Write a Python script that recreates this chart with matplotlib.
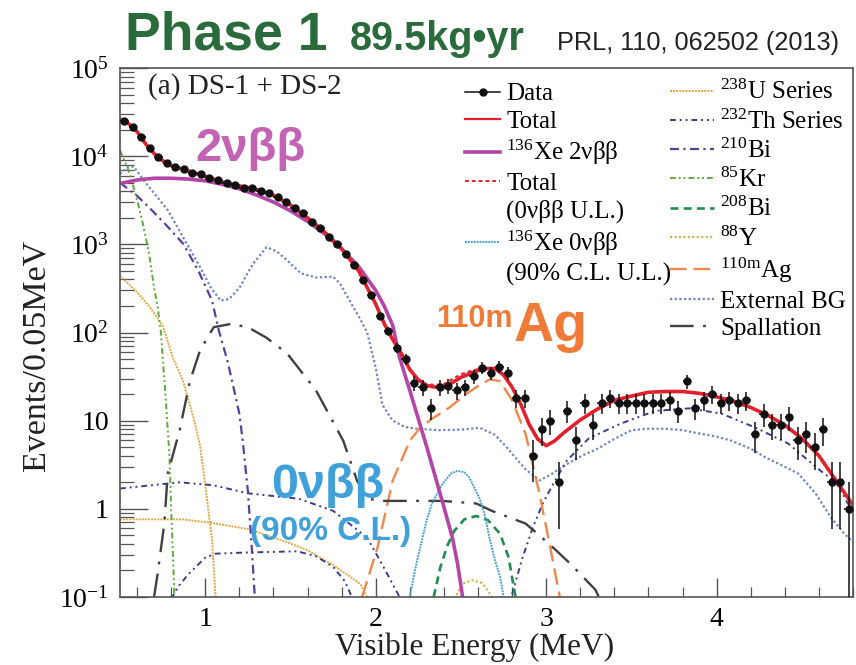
import numpy as np
import matplotlib.pyplot as plt
from matplotlib.lines import Line2D
from matplotlib.ticker import LogLocator, MultipleLocator, NullFormatter

plt.rcParams['font.family'] = ['Liberation Serif', 'DejaVu Serif']
plt.rcParams['mathtext.fontset'] = 'custom'
plt.rcParams['mathtext.rm'] = 'Liberation Serif'
plt.rcParams['mathtext.it'] = 'Liberation Serif:italic'
plt.rcParams['mathtext.bf'] = 'Liberation Serif:bold'

# ---- data: events per 0.05 MeV bin, bins from 0.5 to 4.8 MeV ----
bin_edges = np.arange(0.5, 4.8001, 0.05)
counts = [25200, 21300, 16300, 12400, 9700, 8400, 7500, 7100, 6400, 6200,
          5600, 5400, 4900, 4750, 4400, 4300, 4000, 3800, 3400, 3050,
          2600, 2250, 1790, 1520, 1220, 1010, 770, 590, 390, 265,
          155, 104, 67,
          50, 27, 24, 14, 24, 25, 22, 24, 32, 40,
          35, 41, 35, 18, 18, 4, 8, 10, 2, 13,
          6, 16, 9, 16, 18, 16, 16, 16, 16, 16,
          16, 17, 13, 28, 14, 17, 20, 16, 17, 16,
          17, 7, 12, 9, 9, 11, 6, 7, 5, 8,
          2, 2, 1]

# ---- fit components (energy in MeV, events / 0.05 MeV) ----
total_e = [0.50, 0.55, 0.60, 0.65, 0.70, 0.75, 0.80, 0.90, 1.00, 1.10, 1.20, 1.30,
           1.40, 1.50, 1.60, 1.70, 1.80, 1.90, 2.00, 2.05, 2.10, 2.15, 2.20, 2.25,
           2.30, 2.35, 2.40, 2.45, 2.50, 2.55, 2.60, 2.65, 2.70, 2.75, 2.80, 2.85,
           2.90, 2.95, 3.00, 3.05, 3.10, 3.20, 3.30, 3.40, 3.50, 3.60, 3.70, 3.80,
           3.90, 4.00, 4.10, 4.20, 4.30, 4.40, 4.50, 4.60, 4.70, 4.80]
total = [26300, 23400, 19000, 13800, 10700, 8900, 7800, 6800, 5900, 5100, 4600, 4200,
         3600, 2800, 2000, 1380, 890, 500, 210, 126, 83, 58, 38, 29,
         25, 24, 24, 27, 31, 34, 37, 39, 39, 33, 24, 15.5,
         9.1, 6.2, 5.2, 5.9, 7.2, 10.2, 13.5, 17, 19, 21, 21.4, 21.4,
         20.4, 18.6, 16.6, 14.1, 11.5, 8.9, 6.3, 4.0, 2.1, 1.1]
total_ul = [26300, 23400, 19000, 13800, 10700, 8900, 7800, 6800, 5900, 5100, 4600, 4200,
            3600, 2800, 2000, 1380, 890, 500, 210, 126, 83, 58, 38.1, 29.3,
            25.8, 25.5, 26, 29.6, 33.7, 36.3, 38.5, 39.9, 39.3, 33.1, 24, 15.5,
            9.1, 6.2, 5.2, 5.9, 7.2, 10.2, 13.5, 17, 19, 21, 21.4, 21.4,
            20.4, 18.6, 16.6, 14.1, 11.5, 8.9, 6.3, 4.0, 2.1, 1.1]

xe2nu_e = [0.50, 0.60, 0.70, 0.80, 0.90, 1.00, 1.10, 1.20, 1.30, 1.40, 1.50, 1.60, 1.70,
           1.80, 1.90, 2.00, 2.05, 2.10, 2.14, 2.20, 2.25, 2.30, 2.35, 2.40, 2.45,
           2.48, 2.51, 2.53]
xe2nu = [4900, 5370, 5620, 5620, 5500, 5250, 4790, 4270, 3630, 3020, 2400, 1820, 1320,
         890, 560, 300, 200, 120, 52, 22, 10.5, 5.0, 2.3, 1.05, 0.47,
         0.24, 0.1, 0.063]

xe0nu_e = [2.20, 2.23, 2.26, 2.30, 2.33, 2.39, 2.44, 2.48, 2.52, 2.55, 2.61, 2.64, 2.67,
           2.70, 2.73, 2.75]
xe0nu = [0.1, 0.2, 0.36, 0.75, 1.15, 1.9, 2.5, 2.7, 2.6, 2.25, 1.3, 0.85, 0.44,
         0.26, 0.17, 0.1]

u238_e = [0.50, 0.59, 0.67, 0.75, 0.81, 0.87, 0.93, 0.97, 1.00, 1.04, 1.06, 1.07]
u238 = [440, 300, 200, 120, 52, 28, 11, 5.2, 1.9, 0.44, 0.107, 0.063]
u238_flat_e = [0.50, 0.87, 1.04, 1.25, 1.45, 1.60, 1.75, 1.85, 1.91, 1.95, 1.97]
u238_flat = [0.76, 0.76, 0.69, 0.59, 0.44, 0.34, 0.23, 0.17, 0.14, 0.1, 0.08]

th232_e = [0.50, 0.85, 1.05, 1.25, 1.55, 1.75, 1.95, 2.04, 2.14, 2.17]
th232 = [1.7, 2.0, 1.85, 1.5, 1.3, 0.95, 0.47, 0.23, 0.1, 0.08]
th232_mid_e = [0.80, 0.84, 0.90, 1.00, 1.06, 1.25, 1.54, 1.65, 1.75, 1.82, 1.86, 1.88]
th232_mid = [0.095, 0.13, 0.18, 0.28, 0.31, 0.32, 0.33, 0.29, 0.22, 0.15, 0.1, 0.08]
th232_high_e = [2.80, 2.86, 2.92, 2.98, 3.04, 3.12, 3.25, 3.44, 3.64, 3.84, 4.03, 4.23,
                4.42, 4.61, 4.70, 4.77, 4.80]
th232_high = [0.107, 0.275, 0.60, 1.15, 1.9, 3.5, 6.3, 9.3, 12.9, 13.8, 12.0, 8.3,
              5.5, 2.7, 2.0, 1.15, 1.0]

bi210_e = [0.50, 0.60, 0.67, 0.77, 0.87, 0.96, 1.04, 1.08, 1.13, 1.17, 1.20, 1.22,
           1.25, 1.27, 1.29, 1.30]
bi210 = [5000, 3550, 2630, 1660, 1020, 500, 230, 105, 48, 22, 12, 5.9,
         1.6, 0.44, 0.107, 0.063]

kr85_e = [0.50, 0.55, 0.59, 0.63, 0.67, 0.70, 0.72, 0.74, 0.77, 0.79, 0.80, 0.81, 0.82]
kr85 = [11700, 6900, 3800, 1860, 800, 320, 200, 100, 16, 4, 1.0, 0.32, 0.09]

bi208_e = [2.34, 2.38, 2.42, 2.46, 2.52, 2.59, 2.66, 2.73, 2.78, 2.82]
bi208 = [0.1, 0.22, 0.38, 0.56, 0.76, 0.83, 0.74, 0.52, 0.28, 0.1]

y88_e = [2.46, 2.49, 2.52, 2.57, 2.62, 2.65, 2.69]
y88 = [0.095, 0.12, 0.145, 0.155, 0.145, 0.125, 0.095]

ag110m_e = [1.92, 2.01, 2.10, 2.20, 2.26, 2.33, 2.43, 2.53, 2.59, 2.67, 2.73, 2.80,
            2.88, 2.96, 3.02, 3.08]
ag110m = [0.1, 0.36, 2.1, 5.9, 8.3, 10.5, 14, 20, 24, 29.5, 28, 17,
          7, 1.5, 0.40, 0.1]

ext_e = [0.50, 0.55, 0.58, 0.65, 0.70, 0.78, 0.85, 0.90, 0.97, 1.03, 1.09, 1.14, 1.20,
         1.28, 1.36, 1.42, 1.48, 1.56, 1.65, 1.75, 1.79, 1.85, 1.91, 1.95, 2.00,
         2.04, 2.10, 2.17, 2.24, 2.37, 2.50, 2.61, 2.70, 2.76, 2.82, 2.88, 2.96,
         3.02, 3.12, 3.21, 3.31, 3.40, 3.50, 3.60, 3.70, 3.80, 3.89, 4.00, 4.09,
         4.20, 4.29, 4.40, 4.48, 4.58, 4.67, 4.75, 4.80]
ext_bg = [6300, 7600, 7600, 5000, 3800, 2450, 1410, 950, 550, 330, 230, 240, 320,
          600, 930, 830, 660, 470, 420, 430, 360, 224, 141, 100, 40,
          15, 10, 8.5, 8.1, 7.8, 7.9, 8.3, 6.9, 5.2, 3.8, 2.8, 2.1,
          2.4, 3.2, 4.0, 4.9, 6.2, 7.8, 8.1, 8.1, 7.8, 7.2, 6.6, 5.9,
          4.8, 3.8, 3.0, 2.5, 1.5, 0.8, 0.52, 0.42]

spall_e = [0.70, 0.72, 0.76, 0.78, 0.85, 0.91, 0.97, 1.05, 1.16, 1.26, 1.36, 1.48,
           1.65, 1.81, 1.89, 1.95, 2.05, 2.39, 2.59, 2.68, 2.88, 2.96, 3.05, 3.15,
           3.29, 3.32]
spall = [0.1, 0.18, 0.68, 2.5, 7.8, 28, 63, 115, 126, 112, 87, 58,
         22, 5.9, 2.1, 1.3, 1.23, 1.23, 1.15, 0.95, 0.68, 0.5, 0.35, 0.23,
         0.12, 0.09]

y_ticks = [0.1, 1, 10, 1e2, 1e3, 1e4, 1e5]
y_tick_labels = ['10$^{-1}$', '1', '10', '10$^{2}$', '10$^{3}$', '10$^{4}$', '10$^{5}$']
x_ticks = [1, 2, 3, 4]

# ---- styles ----
c_total = '#e3202b'
c_2nu = '#b445a6'
c_0nu = '#45a2d3'
c_u = '#e3a53f'
c_th = '#383c8c'
c_bi210 = '#5a3e9e'
c_kr = '#5cab3c'
c_bi208 = '#1f8d4a'
c_y = '#d9b24a'
c_ag = '#f0874c'
c_ext = '#6d84c6'
c_sp = '#404040'

st_u = dict(color=c_u, lw=1.4, ls=(0, (1, 0.6)))
st_th = dict(color=c_th, lw=1.4, ls=(0, (3, 2, 1, 2, 1, 2)))
st_bi210 = dict(color=c_bi210, lw=1.6, ls=(0, (4, 2, 1, 2)))
st_kr = dict(color=c_kr, lw=1.4, ls=(0, (3, 1.5, 1, 1.5, 1, 1.5)))
st_bi208 = dict(color=c_bi208, lw=1.9, ls=(0, (3, 2)))
st_y = dict(color=c_y, lw=1.6, ls=(0, (1, 1)))
st_ag = dict(color=c_ag, lw=1.7, ls=(0, (7, 3)))
st_ext = dict(color=c_ext, lw=1.6, ls=(0, (1, 1.1)))
st_sp = dict(color=c_sp, lw=1.7, ls=(0, (10, 4, 1.2, 4)))
st_0nu = dict(color=c_0nu, lw=1.4, ls=(0, (1, 0.5)))
st_ul = dict(color=c_total, lw=1.4, ls=(0, (2, 1.5)))

fig = plt.figure(figsize=(8.56, 6.65), dpi=100)
ax = fig.add_axes([120 / 856, 1 - 597 / 665, 733 / 856, 529 / 665])

ax.plot(ext_e, ext_bg, **st_ext)
ax.plot(u238_e, u238, **st_u)
ax.plot(u238_flat_e, u238_flat, **st_u)
ax.plot(th232_e, th232, **st_th)
ax.plot(th232_mid_e, th232_mid, **st_th)
ax.plot(th232_high_e, th232_high, **st_th)
ax.plot(bi210_e, bi210, **st_bi210)
ax.plot(kr85_e, kr85, **st_kr)
ax.plot(bi208_e, bi208, **st_bi208)
ax.plot(y88_e, y88, **st_y)
ax.plot(ag110m_e, ag110m, **st_ag)
ax.plot(spall_e, spall, **st_sp)
ax.plot(xe0nu_e, xe0nu, **st_0nu)
ax.plot(xe2nu_e, xe2nu, color=c_2nu, lw=2.6, solid_capstyle='butt')
ax.plot(total_e, total_ul, **st_ul)
ax.plot(total_e, total, color=c_total, lw=2.6)

centers = (bin_edges[:-1] + bin_edges[1:]) / 2
counts = np.array(counts, dtype=float)
ax.errorbar(centers, counts, yerr=np.sqrt(counts), xerr=0.025, fmt='o', ms=5,
            color='#111111', elinewidth=1.1, capsize=0, zorder=5)

ax.set_yscale('log')
ax.set_xlim(0.5, 4.8)
ax.set_ylim(0.1, 1e5)
ax.set_yticks(y_ticks, y_tick_labels)
ax.yaxis.set_minor_locator(LogLocator(base=10, subs=range(2, 10), numticks=20))
ax.yaxis.set_minor_formatter(NullFormatter())
ax.set_xticks(x_ticks, [str(v) for v in x_ticks])
ax.xaxis.set_minor_locator(MultipleLocator(0.2))
ax.tick_params(axis='y', which='major', direction='in', length=20, width=1.0,
               labelsize=20, pad=8, color='#555555')
ax.tick_params(axis='y', which='minor', direction='in', length=10, width=0.9, color='#555555')
ax.tick_params(axis='x', which='major', direction='in', length=14, width=1.0,
               labelsize=20, pad=7, color='#555555')
ax.tick_params(axis='x', which='minor', direction='in', length=7, width=0.9, color='#555555')
for sp in ax.spines.values():
    sp.set_color('#555555')
    sp.set_linewidth(1.2)

fig.text(475 / 856, 1 - 662 / 665, 'Visible Energy (MeV)', fontsize=22.5,
         ha='center', va='bottom', color='#222222')
fig.text(36 / 856, 1 - 355 / 665, 'Events/0.05MeV', fontsize=24.5, rotation=90,
         ha='center', va='center', color='#222222')

# ---- header ----
green = '#2a6b3b'
fig.text(125 / 856, 1 - 50 / 665, 'Phase 1', fontsize=38.5, fontweight='bold',
         family='Liberation Sans', color=green, va='baseline')
fig.text(350 / 856, 1 - 50 / 665, '89.5kg\u2022yr', fontsize=28.5, fontweight='bold',
         family='Liberation Sans', color=green, va='baseline')
fig.text(557 / 856, 1 - 50 / 665, 'PRL, 110, 062502 (2013)', fontsize=18.2,
         family='Liberation Sans', color='#222222', va='baseline')

fig.text(148 / 856, 1 - 94 / 665, '(a) DS-1 + DS-2', fontsize=21, color='#222222',
         va='baseline')

# ---- annotations in the plot ----
fig.text(195 / 856, 1 - 161 / 665, '2\u03bd\u03b2\u03b2', fontsize=34, fontweight='bold',
         family='Liberation Sans', color='#c462b4', va='baseline')
fig.text(271 / 856, 1 - 498 / 665, '0\u03bd\u03b2\u03b2', fontsize=35, fontweight='bold',
         family='Liberation Sans', color='#3fa0da', va='baseline')
fig.text(250 / 856, 1 - 540 / 665, '(90% C.L.)', fontsize=24, fontweight='bold',
         family='Liberation Sans', color='#3fa0da', va='baseline')
fig.text(436 / 856, 1 - 327 / 665, '110m', fontsize=22, fontweight='bold',
         family='Liberation Sans', color='#f07b38', va='baseline')
fig.text(514 / 856, 1 - 341 / 665, 'Ag', fontsize=40, fontweight='bold',
         family='Liberation Sans', color='#f07b38', va='baseline')

# ---- legends ----
blank = Line2D([], [], color='none')
h1 = [Line2D([], [], color='#111111', marker='o', ms=5, lw=1.1),
      Line2D([], [], color=c_total, lw=1.6),
      Line2D([], [], color=c_2nu, lw=2.6),
      Line2D([], [], **st_ul), blank,
      Line2D([], [], **st_0nu), blank]
l1 = ['Data', 'Total', '$^{136}$Xe 2\u03bd\u03b2\u03b2', 'Total', '(0\u03bd\u03b2\u03b2 U.L.)',
      '$^{136}$Xe 0\u03bd\u03b2\u03b2', '(90% C.L. U.L.)']
h2 = [Line2D([], [], **st_u), Line2D([], [], **st_th), Line2D([], [], **st_bi210),
      Line2D([], [], **st_kr), Line2D([], [], **st_bi208), Line2D([], [], **st_y),
      Line2D([], [], **st_ag), Line2D([], [], **st_ext), Line2D([], [], **st_sp)]
l2 = ['$^{238}$U Series', '$^{232}$Th Series', '$^{210}$Bi', '$^{85}$Kr', '$^{208}$Bi',
      '$^{88}$Y', '$^{110\\mathrm{m}}$Ag', 'External BG', 'Spallation']

leg_kw = dict(loc='upper left', frameon=False, fontsize=18, handletextpad=0.25,
              labelspacing=0.2, borderaxespad=0, borderpad=0)
fig.legend(h1, l1, bbox_to_anchor=(465 / 856, 1 - 83 / 665), handlelength=1.4, **leg_kw)
fig.legend(h2, l2, bbox_to_anchor=(670 / 856, 1 - 80 / 665), handlelength=1.75, **leg_kw)

fig.savefig('out.png', dpi=100)
